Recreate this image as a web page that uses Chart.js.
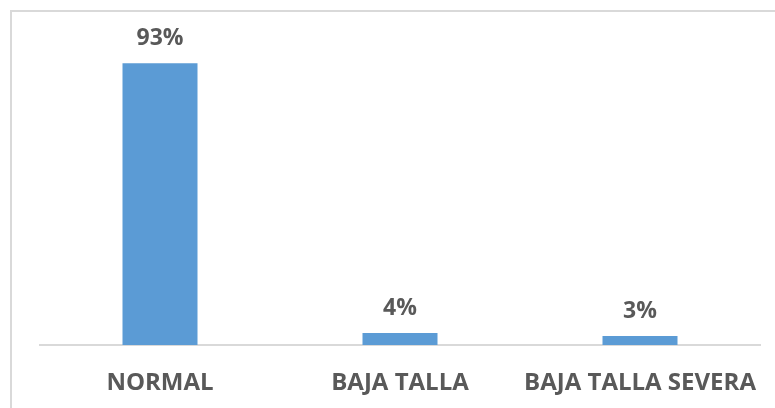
<!DOCTYPE html>
<html>
<head>
<meta charset="utf-8">
<script src="https://cdn.jsdelivr.net/npm/chart.js@4"></script>
<style>
  html, body { margin: 0; padding: 0; background: #fff; }
  #wrap { width: 775px; height: 408px; }
</style>
</head>
<body>
<div id="wrap"><canvas id="myChart" width="775" height="408"></canvas></div>
<script>
const categories = ["NORMAL", "BAJA TALLA", "BAJA TALLA SEVERA"];
const percentages = [93, 4, 3];
const yMin = 0;
const yMax = 100;

const textGray = "#595959";
const lineGray = "#d9d9d9";
const barBlue = "#5b9bd5";
const fontFamily = "'Open Sans', sans-serif";

// outer frame of the chart, it runs off the right and bottom edge
const framePlugin = {
    id: "frame",
    beforeDraw(chart) {
        const ctx = chart.ctx;
        ctx.save();
        ctx.strokeStyle = lineGray;
        ctx.lineWidth = 2;
        ctx.strokeRect(11, 11, 900, 600);
        ctx.restore();
    }
};

// value labels above each bar
const valueLabels = {
    id: "valueLabels",
    afterDatasetsDraw(chart) {
        const ctx = chart.ctx;
        const meta = chart.getDatasetMeta(0);
        ctx.save();
        ctx.fillStyle = textGray;
        ctx.font = "bold 23px " + fontFamily;
        ctx.textAlign = "center";
        ctx.textBaseline = "alphabetic";
        meta.data.forEach((bar, i) => {
            ctx.fillText(percentages[i] + "%", bar.x, bar.y - 18);
        });
        ctx.restore();
    }
};

const ctx = document.getElementById("myChart").getContext("2d");
const myChart = new Chart(ctx, {
    type: "bar",
    data: {
        labels: categories,
        datasets: [{
            data: percentages,
            backgroundColor: barBlue,
            borderWidth: 0,
            categoryPercentage: 1,
            barPercentage: 0.3125
        }]
    },
    options: {
        responsive: false,
        animation: false,
        layout: {
            padding: {left: 40, right: 15, top: 42, bottom: 0}
        },
        scales: {
            x: {
                grid: {display: false, drawTicks: false},
                border: {display: true, color: lineGray, width: 2},
                ticks: {
                    color: textGray,
                    padding: 24,
                    font: {family: fontFamily, size: 24, weight: "bold"}
                },
                afterFit(scale) {
                    scale.height = 63;   // keep the axis line where the reference has it
                    scale.paddingLeft = 0;
                    scale.paddingRight = 0;
                }
            },
            y: {
                display: false,
                min: yMin,
                max: yMax
            }
        },
        plugins: {
            legend: {display: false},
            tooltip: {enabled: false}
        }
    },
    plugins: [framePlugin, valueLabels]
});
</script>
</body>
</html>
